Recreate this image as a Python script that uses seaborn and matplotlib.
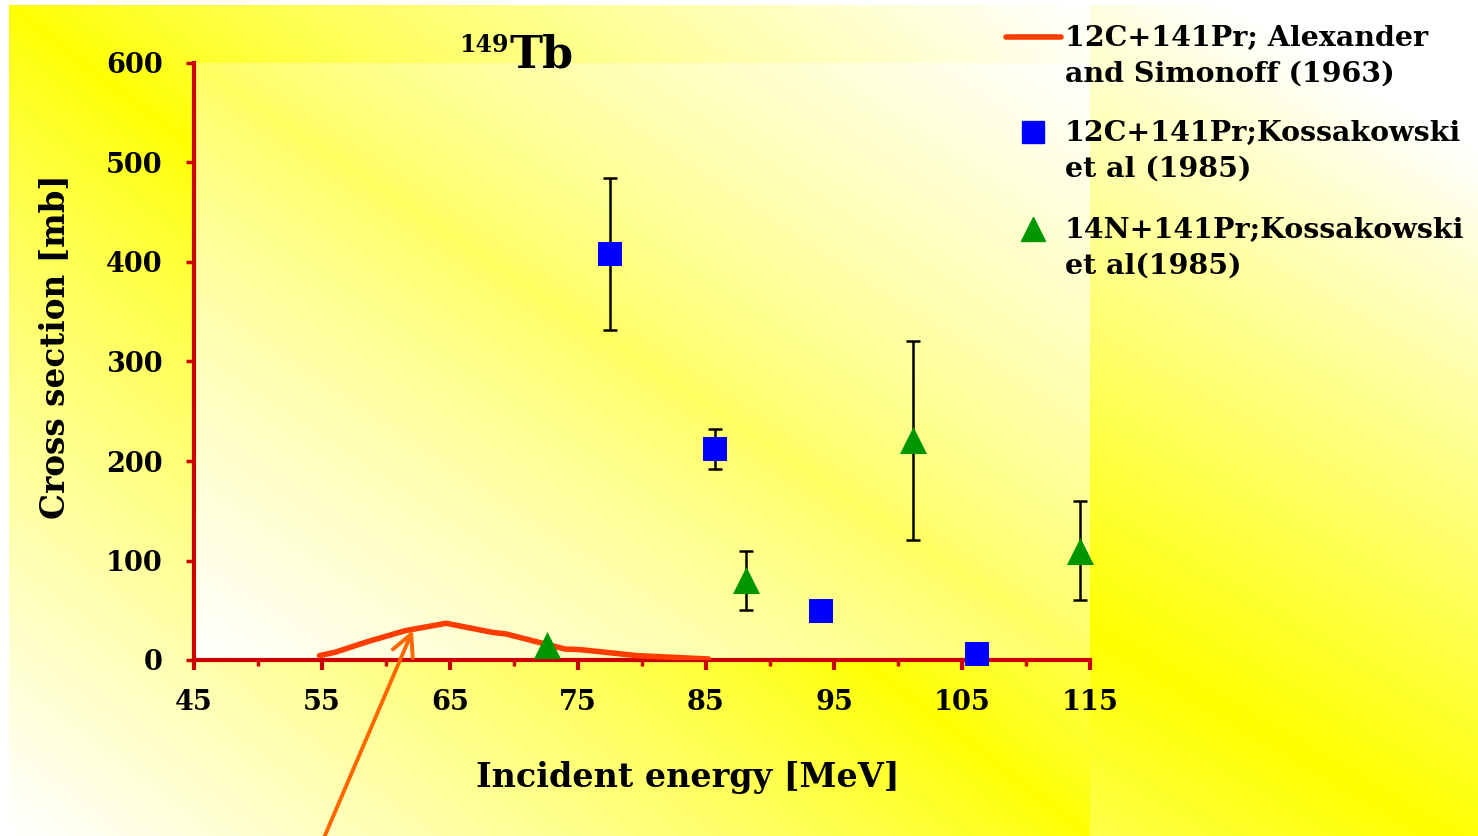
import numpy as np
import matplotlib.pyplot as plt
import seaborn as sns

# == DATA ==
# 12C+141Pr; Alexander and Simonoff (1963) -- excitation curve
fit_energy = [54.8, 56.0, 58.4, 61.5, 62.5, 64.7, 68.3, 69.4, 74.0, 75.2, 79.6, 85.2]
fit_xsec = [4.4, 7.7, 17.8, 29.5, 31.8, 36.9, 27.8, 26.1, 11.0, 10.4, 4.4, 1.0]

# 12C+141Pr; Kossakowski et al (1985)
c12_energy = np.array([77.5, 85.7, 94.0, 106.2])
c12_xsec = np.array([408, 212, 49, 6])
c12_err = np.array([76, 20, 0, 0])

# 14N+141Pr; Kossakowski et al (1985)
n14_energy = np.array([72.6, 88.1, 101.2, 114.2])
n14_xsec = np.array([15, 80, 221, 110])
n14_err = np.array([0, 30, 100, 50])

x_major = [45, 55, 65, 75, 85, 95, 105, 115]
x_minor = [50, 60, 70, 80, 90, 100, 110]
y_ticks = [0, 100, 200, 300, 400, 500, 600]

legend_labels = [
    "12C+141Pr; Alexander\nand Simonoff (1963)",
    "12C+141Pr;Kossakowski\net al (1985)",
    "14N+141Pr;Kossakowski\net al(1985)",
]

# == STYLE ==
sns.set_style("white")
plt.rcParams["font.family"] = ["DejaVu Serif"]
plt.rcParams["font.weight"] = "bold"
plt.rcParams["text.color"] = "black"

W, H = 1478, 836
AXIS_RED = "#cc0000"
LINE_RED = "#ff3c00"
BLUE = "#0000ff"
GREEN = "#009600"


def diag_gradient(nx, ny, lo, gain, power):
    # yellow along the top-left -> bottom-right diagonal, fading to white
    u = np.linspace(0, 1, nx)[None, :]
    v = np.linspace(0, 1, ny)[:, None]
    t = np.abs(u - v)
    img = np.ones((ny, nx, 3))
    img[..., 2] = np.clip(lo + gain * t ** power, 0, 1)
    return img


fig = plt.figure(figsize=(W / 100, H / 100), dpi=100)
fig.patch.set_facecolor("white")

# background layer in pixel coords (y down)
bg = fig.add_axes([0, 0, 1, 1], zorder=-10)
bg.imshow(diag_gradient(300, 200, 0, 1.2, 1.0), extent=(9, W, H + 20, 5),
          origin="upper", aspect="auto", interpolation="bilinear")
bg.imshow(diag_gradient(300, 200, 0, 1.0, 0.8), extent=(9, 1090, H, 5),
          origin="upper", aspect="auto", interpolation="bilinear")
bg.imshow(diag_gradient(300, 200, 0.38, 0.62, 0.8), extent=(194, 1090, 660, 63),
          origin="upper", aspect="auto", interpolation="bilinear")
bg.set_xlim(0, W)
bg.set_ylim(H, 0)
bg.axis("off")

# main plot area
ax = fig.add_axes([194 / W, 1 - 660 / H, (1090 - 194) / W, (660 - 63) / H])
ax.set_facecolor("none")

sns.lineplot(x=fit_energy, y=fit_xsec, ax=ax, sort=False, color=LINE_RED,
             linewidth=4, zorder=3)

m = c12_err > 0
ax.errorbar(c12_energy[m], c12_xsec[m], yerr=c12_err[m], fmt="none",
            ecolor="black", elinewidth=1.8, capsize=5, capthick=1.8, zorder=4)
m = n14_err > 0
ax.errorbar(n14_energy[m], n14_xsec[m], yerr=n14_err[m], fmt="none",
            ecolor="black", elinewidth=1.8, capsize=5, capthick=1.8, zorder=4)

sns.scatterplot(x=c12_energy, y=c12_xsec, ax=ax, marker="s", s=320,
                color=BLUE, linewidth=0, zorder=5, clip_on=False)
sns.scatterplot(x=n14_energy, y=n14_xsec, ax=ax, marker="^", s=380,
                color=GREEN, linewidth=0, zorder=5, clip_on=False)

ax.set_xlim(45, 115)
ax.set_ylim(0, 600)
ax.set_xticks(x_major)
ax.set_xticks(x_minor, minor=True)
ax.set_yticks(y_ticks)
ax.tick_params(axis="both", which="both", colors=AXIS_RED, labelcolor="black",
               labelsize=19.5)
ax.tick_params(axis="x", which="major", direction="out", length=7, width=3, pad=14)
ax.tick_params(axis="x", which="minor", direction="out", length=4.5, width=2.5)
ax.tick_params(axis="y", which="major", direction="out", length=5.5, width=2.5, pad=17)
ax.tick_params(which="both", bottom=True, left=True)

for side in ["top", "right"]:
    ax.spines[side].set_visible(False)
for side in ["left", "bottom"]:
    ax.spines[side].set_color(AXIS_RED)
    ax.spines[side].set_linewidth(3)
    ax.spines[side].set_zorder(2)

ax.set_xlabel("Incident energy [MeV]", fontsize=24, fontweight="bold", color="black")
ax.set_ylabel("Cross section [mb]", fontsize=23.5, fontweight="bold", color="black")
ax.xaxis.set_label_coords((688 - 194) / 896, (660 - 778) / 597)
ax.yaxis.set_label_coords((55 - 194) / 896, (660 - 347) / 597)
ax.xaxis.label.set_va("center")
ax.yaxis.label.set_va("center")

# title 149Tb
bg.text(509, 52, "149", fontsize=17, ha="right", va="baseline")
bg.text(509, 68, "Tb", fontsize=32, ha="left", va="baseline")

# arrow pointing at the excitation curve
ax.annotate("", xy=(62.1, 30), xycoords="data", xytext=(323, -4),
            textcoords="figure pixels", annotation_clip=False,
            arrowprops=dict(arrowstyle="->,head_length=0.55,head_width=0.28",
                            color="#ff6600", lw=2.8, mutation_scale=28,
                            shrinkA=0, shrinkB=0))

# legend
bg.plot([1006, 1061], [37, 37], color=LINE_RED, lw=4, solid_capstyle="round")
bg.plot([1033], [132], marker="s", ms=16, color=BLUE, linestyle="none")
bg.plot([1033], [229], marker="^", ms=17, color=GREEN, linestyle="none")
for yc, label in zip([56, 151.5, 248.5], legend_labels):
    bg.text(1065, yc, label, fontsize=20.5, ha="left", va="center",
            linespacing=1.4)

fig.savefig("out.png", dpi=100)
